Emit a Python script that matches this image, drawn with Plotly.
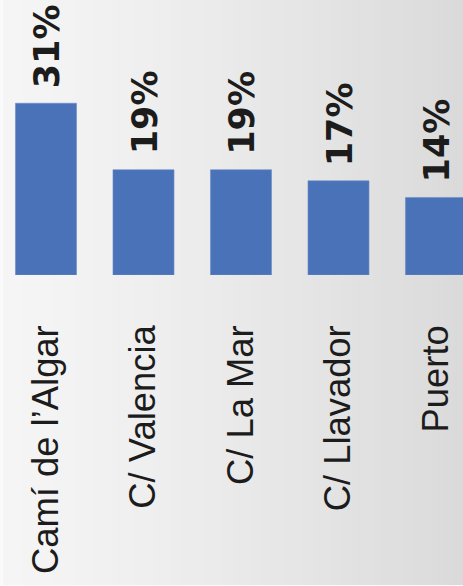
import plotly.graph_objects as go

categories = ["Camí de l’Algar", "C/ Valencia", "C/ La Mar", "C/ Llavador", "Puerto"]
values = [31, 19, 19, 17, 14]
value_labels = ["31%", "19%", "19%", "17%", "14%"]

W, H = 463, 586
L, B = 3, 311
plot_h = H - B  # 275 px
plot_w = W - L

fig = go.Figure()
fig.add_trace(go.Bar(
    x=categories, y=values,
    marker=dict(color="#4a72b8", line=dict(width=0.6, color="#6b8cc8")),
    width=0.626, hoverinfo="skip",
))

for c, v, t in zip(categories, values, value_labels):
    fig.add_annotation(
        x=c, y=v, text=t, textangle=-90, showarrow=False,
        yanchor="bottom", xanchor="center", yshift=13, xshift=1,
        font=dict(family="DejaVu Sans", size=35, color="#1c1c1c", weight="bold"),
    )

# background gradient stripes (white-ish left to gray right)
n = 46
shapes = []
for i in range(n):
    t = (i + 0.5) / n
    g = round(245 - 27 * t ** 1.25)
    col = f"rgb({g},{g},{g})"
    shapes.append(dict(
        type="rect", xref="paper", yref="paper",
        x0=i / n, x1=(i + 1) / n + 0.002,
        y0=(plot_h - 585) / plot_h, y1=1.0,
        fillcolor=col, line=dict(width=0), layer="below",
    ))

fig.update_layout(
    width=W, height=H,
    margin=dict(l=L, r=0, t=0, b=B, pad=0),
    paper_bgcolor="#fafafa",
    plot_bgcolor="rgba(0,0,0,0)",
    shapes=shapes,
    showlegend=False,
    xaxis=dict(
        range=[-0.441, 4.277], tickangle=-90, showgrid=False, zeroline=False,
        showline=False, ticks="", ticklabelstandoff=42,
        tickfont=dict(family="Liberation Sans", size=36.4, color="#1c1c1c"),
    ),
    yaxis=dict(range=[0, plot_h / 5.54], visible=False, showgrid=False),
)

fig.write_html(
    "out.html",
    config={"displayModeBar": False},
    post_script="document.body.style.margin='0';document.body.style.overflow='hidden';",
)
